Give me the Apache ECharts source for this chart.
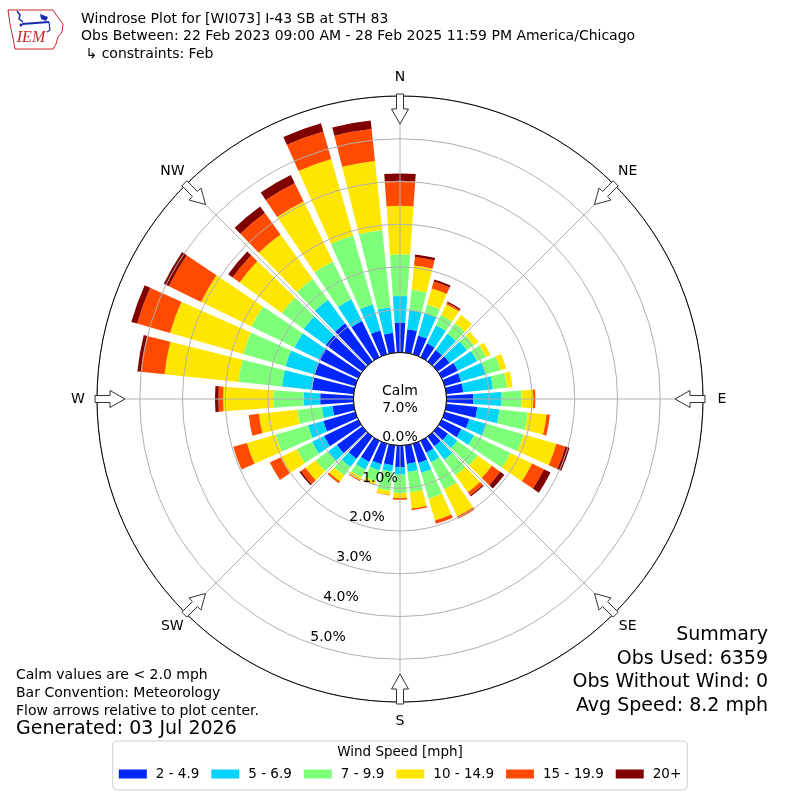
<!DOCTYPE html>
<html>
<head>
<meta charset="utf-8">
<script src="https://cdn.jsdelivr.net/npm/echarts@6/dist/echarts.min.js"></script>
<style>html,body{margin:0;padding:0;background:#fff}#c{width:800px;height:800px}</style>
</head>
<body>
<div id="c"></div>
<script>
// ---------------- DATA ----------------
const directions = [0,10,20,30,40,50,60,70,80,90,100,110,120,130,140,150,160,170,180,190,200,210,220,230,240,250,260,270,280,290,300,310,320,330,340,350];
const speedBins = ['2 - 4.9','5 - 6.9','7 - 9.9','10 - 14.9','15 - 19.9','20+'];
// percent of observations per direction, per speed bin
const speed_2_5   = [0.70,0.55,0.46,0.36,0.33,0.35,0.42,0.40,0.40,0.63,0.73,0.60,0.51,0.30,0.28,0.31,0.47,0.44,0.51,0.47,0.50,0.55,0.64,0.74,0.89,0.78,0.50,0.78,0.98,0.99,1.02,1.06,1.10,0.94,0.58,0.47];
const speed_5_7   = [0.62,0.45,0.54,0.47,0.47,0.50,0.50,0.59,0.70,0.66,0.52,0.42,0.33,0.27,0.39,0.25,0.24,0.19,0.17,0.15,0.15,0.20,0.24,0.25,0.31,0.37,0.25,0.39,0.71,0.71,0.64,0.64,0.68,0.57,0.63,0.60];
const speed_7_10  = [0.98,0.48,0.21,0.27,0.30,0.20,0.23,0.37,0.33,0.47,0.67,0.90,0.95,0.59,0.45,0.71,0.63,0.48,0.43,0.45,0.27,0.20,0.25,0.36,0.40,0.79,0.58,0.71,1.02,1.03,1.12,0.63,0.61,0.98,1.68,1.82];
const speed_10_15 = [1.13,0.57,0.39,0.28,0.24,0.13,0.12,0.14,0.13,0.27,0.44,0.80,0.56,0.41,0.49,0.70,0.53,0.38,0.12,0.10,0.08,0.08,0.17,0.30,0.42,0.70,0.90,1.17,1.74,1.78,1.31,1.22,1.28,1.56,1.86,1.62];
const speed_15_20 = [0.59,0.20,0.17,0.04,0.00,0.00,0.00,0.00,0.00,0.05,0.08,0.22,0.31,0.24,0.09,0.06,0.08,0.04,0.04,0.01,0.01,0.02,0.05,0.13,0.28,0.33,0.24,0.11,0.56,0.80,0.84,0.20,0.62,0.48,0.67,0.75];
const speed_20p   = [0.17,0.06,0.05,0.03,0.00,0.00,0.00,0.00,0.00,0.00,0.00,0.10,0.17,0.12,0.03,0.00,0.00,0.00,0.00,0.00,0.00,0.00,0.00,0.04,0.00,0.00,0.00,0.08,0.08,0.14,0.13,0.13,0.19,0.21,0.20,0.20];
const binColors = ['#0026ff','#00d4f8','#7dff7a','#ffe600','#ff4a00','#800000'];
const radiusTicks = [1,2,3,4,5];
const radiusMax = 6;
const calmPct = 7.0;
const compassNames = ['N','NE','E','SE','S','SW','W','NW'];
const compassDeg = [0,45,90,135,180,225,270,315];
const titleLines = ['Windrose Plot for [WI073] I-43 SB at STH 83',
  'Obs Between: 22 Feb 2023 09:00 AM - 28 Feb 2025 11:59 PM America/Chicago',
  ' \u21b3 constraints: Feb'];
const noteLines = ['Calm values are < 2.0 mph','Bar Convention: Meteorology','Flow arrows relative to plot center.'];
const generatedText = 'Generated: 03 Jul 2026';
const summaryLines = ['Summary','Obs Used: 6359','Obs Without Wind: 0','Avg Speed: 8.2 mph'];

// ---------------- LAYOUT ----------------
const CX = 400, CY = 399, R0 = 46.5, R1 = 303;
const FONT = 'DejaVu Sans';
function pr(r, off, deg) {
  const a = deg * Math.PI / 180;
  return [CX + r * Math.sin(a) + off * Math.cos(a), CY - r * Math.cos(a) + off * Math.sin(a)];
}
function pctR(p) { return R0 + (R1 - R0) * p / radiusMax; }
function txt(text, x, y, size, align, vAlign, extra) {
  return Object.assign({
    type: 'text', z: 100, x: x, y: y,
    style: { text: text, fill: '#000', fontSize: size, fontFamily: FONT,
      align: align, verticalAlign: vAlign, textAlign: align, textVerticalAlign: vAlign }
  }, extra || {});
}

const chart = echarts.init(document.getElementById('c'), null, { renderer: 'canvas' });

const seriesData = [speed_2_5, speed_5_7, speed_7_10, speed_10_15, speed_15_20, speed_20p];
const series = seriesData.map((d, i) => ({
  type: 'bar', name: speedBins[i], coordinateSystem: 'polar', polarIndex: 0,
  stack: 'wind', data: d, barCategoryGap: '20%',
  itemStyle: { color: binColors[i] }, z: 2, silent: true, animation: false
}));

const graphic = [];
// calm circle
graphic.push({ type: 'circle', z: 50, shape: { cx: CX, cy: CY, r: R0 }, style: { fill: '#fff', stroke: '#000', lineWidth: 1 } });
graphic.push(txt('Calm', CX, CY - 8, 14, 'center', 'middle'));
graphic.push(txt(calmPct.toFixed(1) + '%', CX, CY + 9, 14, 'center', 'middle'));
graphic.push(txt('0.0%', CX, CY + 38, 14, 'center', 'middle'));
// radius tick labels (placed just inside each ring, south-south-west)
const r1 = pctR(1);
radiusTicks.forEach(p => {
  const r = pctR(p);
  graphic.push(txt(p.toFixed(1) + '%', CX - 20 - (r - r1) * 0.304, CY + 79 + (r - r1) * 0.93, 14, 'center', 'middle'));
});
// compass arrows + labels
compassDeg.forEach((deg, i) => {
  const pts = [pr(305, -3.5, deg), pr(305, 3.5, deg), pr(290, 3.5, deg), pr(290, 8.5, deg),
               pr(275, 0, deg), pr(290, -8.5, deg), pr(290, -3.5, deg)];
  graphic.push({ type: 'polygon', z: 90, shape: { points: pts }, style: { fill: '#fff', stroke: '#333', lineWidth: 1 } });
  const lp = pr(322, 0, deg);
  graphic.push(txt(compassNames[i], lp[0], lp[1], 14, 'center', 'middle'));
});
// titles
titleLines.forEach((t, i) => graphic.push(txt(t, 81, 19 + i * 17.5, 14, 'left', 'middle')));
// notes
noteLines.forEach((t, i) => graphic.push(txt(t, 16, 675 + i * 18, 14, 'left', 'middle')));
graphic.push(txt(generatedText, 16, 729, 19, 'left', 'middle'));
summaryLines.forEach((t, i) => graphic.push(txt(t, 768, 635 + i * 23.7, 19, 'right', 'middle')));
// legend title
graphic.push(txt('Wind Speed [mph]', 400, 752, 13.5, 'center', 'middle'));
// IEM logo
graphic.push({ type: 'polyline', z: 100, shape: { points: [[8,10],[53,10],[57,16],[63,24],[62,32],[58,37],[56,44],[53,49],[15,49],[13,38],[10,24],[8,10]] },
  style: { stroke: '#c8262b', lineWidth: 1, fill: null } });
graphic.push({ type: 'polyline', z: 100, shape: { points: [[22,24],[49,22]] }, style: { stroke: '#1a2bb0', lineWidth: 2 } });
graphic.push({ type: 'polyline', z: 100, shape: { points: [[17,11],[20,15],[19,19],[23,22]] }, style: { stroke: '#1a2bb0', lineWidth: 1.5 } });
graphic.push({ type: 'polygon', z: 100, shape: { points: [[40,14],[48,17],[46,21],[41,19]] }, style: { fill: '#1a2bb0' } });
graphic.push({ type: 'circle', z: 100, shape: { cx: 21, cy: 25, r: 1.5 }, style: { fill: '#1a2bb0' } });
graphic.push({ type: 'polyline', z: 100, shape: { points: [[49,22],[50,30],[47,32]] }, style: { stroke: '#1a2bb0', lineWidth: 1.2 } });
graphic.push({ type: 'text', z: 100, x: 31, y: 38, style: { text: 'IEM', fill: '#c8262b', fontSize: 16, fontFamily: 'Liberation Serif', fontStyle: 'italic',
  align: 'center', verticalAlign: 'middle', textAlign: 'center', textVerticalAlign: 'middle' } });

const option = {
  animation: false,
  backgroundColor: '#fff',
  polar: [
    { center: [CX, CY], radius: [R0, R1] },
    { center: [CX, CY], radius: [R0, R1] }
  ],
  angleAxis: [
    { polarIndex: 0, type: 'category', data: directions.map(String), startAngle: 95, clockwise: true,
      axisLine: { show: false }, axisTick: { show: false }, axisLabel: { show: false }, splitLine: { show: false } },
    { polarIndex: 1, type: 'value', min: 0, max: 360, interval: 45, startAngle: 90, clockwise: true, z: 10,
      axisLine: { show: true, lineStyle: { color: '#000', width: 1 } }, axisTick: { show: false }, axisLabel: { show: false },
      splitLine: { show: true, lineStyle: { color: '#b0b0b0', width: 1, opacity: 1 } } }
  ],
  radiusAxis: [
    { polarIndex: 0, type: 'value', min: 0, max: radiusMax,
      axisLine: { show: false }, axisTick: { show: false }, axisLabel: { show: false }, splitLine: { show: false } },
    { polarIndex: 1, type: 'value', min: 0, max: radiusMax, interval: 1, z: 10,
      axisLine: { show: false }, axisTick: { show: false }, axisLabel: { show: false },
      splitLine: { show: true, lineStyle: { color: '#b0b0b0', width: 1, opacity: 1 } } }
  ],
  legend: {
    data: speedBins, icon: 'rect', itemWidth: 28, itemHeight: 9, itemGap: 12,
    left: 'center', top: 741, padding: [25, 6, 8, 6],
    borderColor: '#cccccc', borderWidth: 1, borderRadius: 4, selectedMode: false,
    textStyle: { fontSize: 13.5, fontFamily: FONT, color: '#000', lineHeight: 16, padding: [0, 0, 0, 4] }
  },
  series: series,
  graphic: graphic
};
chart.setOption(option);
</script>
</body>
</html>
